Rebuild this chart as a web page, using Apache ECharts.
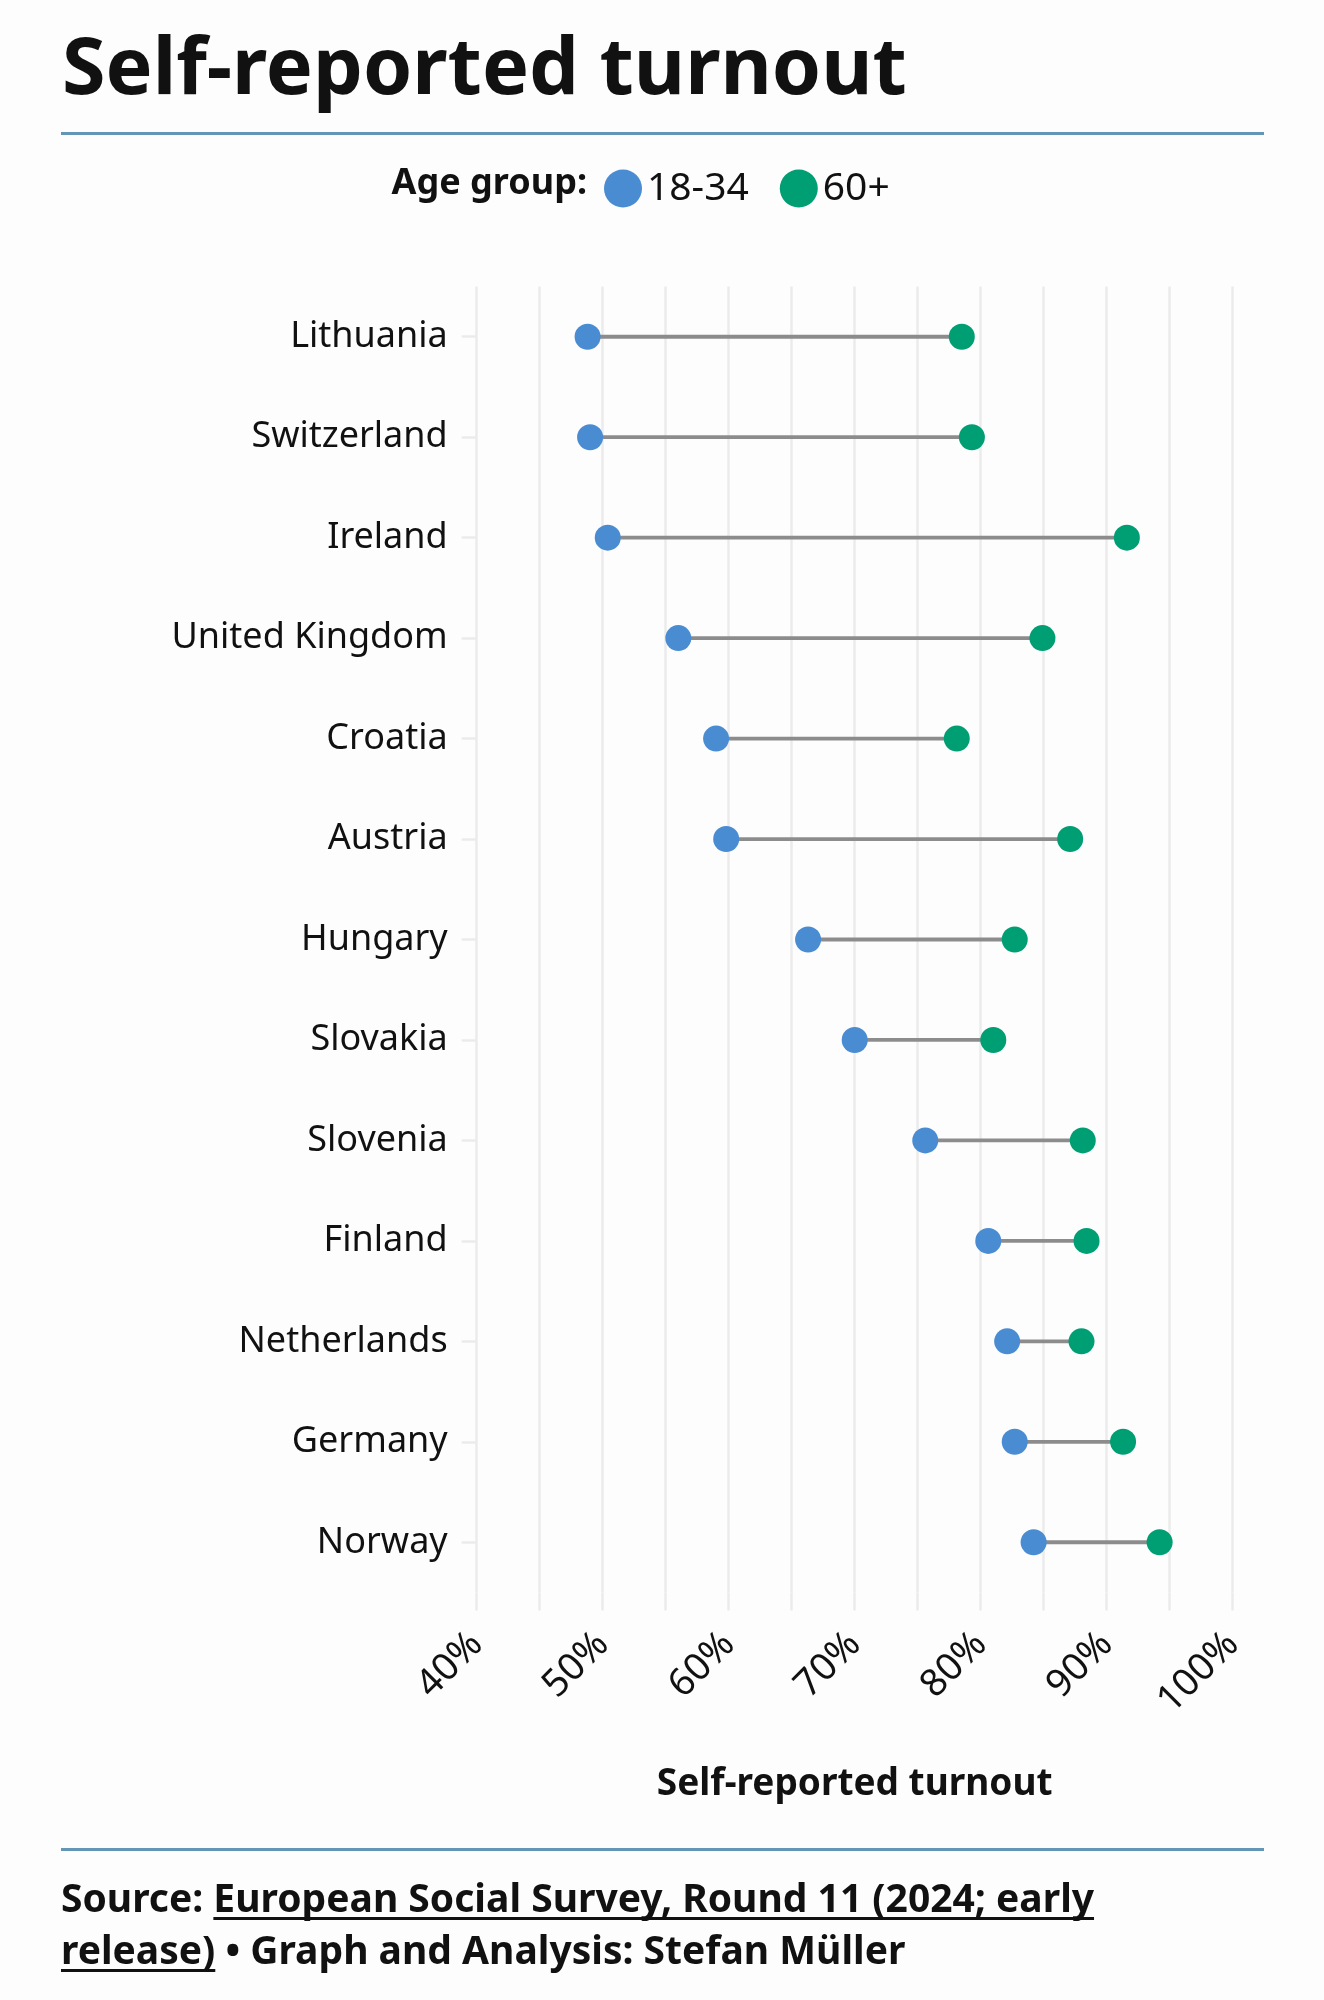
<!DOCTYPE html>
<html>
<head>
<meta charset="utf-8">
<script src="https://cdn.jsdelivr.net/npm/echarts@6/dist/echarts.min.js"></script>
<style>
  html, body { margin: 0; padding: 0; background: #fdfdfd; }
  #chart { width: 1324px; height: 2000px; }
</style>
</head>
<body>
<div id="chart"></div>
<script>
// ---- data ----
const countries = ['Lithuania', 'Switzerland', 'Ireland', 'United Kingdom', 'Croatia', 'Austria',
  'Hungary', 'Slovakia', 'Slovenia', 'Finland', 'Netherlands', 'Germany', 'Norway'];
const age18to34 = [48.8, 49.0, 50.4, 56.0, 59.0, 59.8, 66.3, 70.0, 75.6, 80.6, 82.1, 82.7, 84.2];
const age60plus = [78.5, 79.3, 91.6, 84.9, 78.1, 87.1, 82.7, 81.0, 88.1, 88.4, 88.0, 91.3, 94.2];
const xMin = 40, xMax = 100, xStep = 5;
const groupNames = ['18-34', '60+'];
const titleText = 'Self-reported turnout';
const axisTitle = 'Self-reported turnout';
const legendTitle = 'Age group:';
const captionLine1 = ['Source: ', 'European Social Survey, Round 11 (2024; early'];
const captionLine2 = ['release)', ' \u2022 Graph and Analysis: Stefan M\u00fcller'];

const FONT = '"Noto Sans", "DejaVu Sans", sans-serif';
const BLUE = '#4a8cd2', GREEN = '#009e73', RULE = '#6396b6', INK = '#111111';

// measure text for underline decorations
const mctx = document.createElement('canvas').getContext('2d');
function tw(str, size, weight) {
  mctx.font = (weight || 'normal') + ' ' + size + 'px "Noto Sans"';
  return mctx.measureText(str).width;
}

const capSize = 39;
const capX = 61, cap1Y = 1901, cap2Y = 1953;
const w1a = tw(captionLine1[0], capSize, 'bold');
const w1b = tw(captionLine1[1], capSize, 'bold');
const w2a = tw(captionLine2[0], capSize, 'bold');

const chart = echarts.init(document.getElementById('chart'), null, { renderer: 'canvas' });

const segData = countries.map((c, i) => [age18to34[i], age60plus[i], i]);

chart.setOption({
  backgroundColor: '#fdfdfd',
  animation: false,
  grid: { left: 476.7, right: 91.3, top: 286.5, bottom: 407.5, containLabel: false },
  legend: {
    left: 599, top: 164,
    itemWidth: 38, itemHeight: 38, itemGap: 31,
    icon: 'circle',
    selectedMode: false,
    textStyle: { fontFamily: FONT, fontSize: 39, color: INK },
    data: groupNames
  },
  xAxis: {
    type: 'value', min: xMin, max: xMax, interval: xStep,
    axisLine: { show: false },
    axisTick: { show: true, length: 18, lineStyle: { color: '#ebebeb', width: 2.5 } },
    splitLine: { show: true, lineStyle: { color: '#ebebeb', width: 2.5 } },
    axisLabel: {
      rotate: 45, margin: 46, fontFamily: FONT, fontSize: 38, color: INK,
      formatter: v => (v % 10 === 0 ? v + '%' : '')
    },
    name: axisTitle, nameLocation: 'middle', nameGap: 173,
    nameTextStyle: { fontFamily: FONT, fontSize: 37, fontWeight: 'bold', color: INK }
  },
  yAxis: {
    type: 'category', data: countries, inverse: true,
    axisLine: { show: false },
    axisTick: { show: true, length: 15, alignWithLabel: true, lineStyle: { color: '#ebebeb', width: 2.5 } },
    splitLine: { show: false },
    axisLabel: { margin: 29, fontFamily: FONT, fontSize: 36, color: INK }
  },
  series: [
    {
      type: 'custom', name: 'gap', silent: true, z: 1,
      encode: { x: [0, 1], y: 2 },
      data: segData,
      renderItem: (params, api) => {
        const p1 = api.coord([api.value(0), api.value(2)]);
        const p2 = api.coord([api.value(1), api.value(2)]);
        return { type: 'line', shape: { x1: p1[0], y1: p1[1], x2: p2[0], y2: p2[1] },
                 style: { stroke: '#8c8c8c', lineWidth: 3.8 } };
      }
    },
    {
      type: 'scatter', name: groupNames[0], z: 3, symbol: 'circle', symbolSize: 26,
      itemStyle: { color: BLUE, opacity: 1 },
      data: age18to34.map((v, i) => [v, countries[i]])
    },
    {
      type: 'scatter', name: groupNames[1], z: 3, symbol: 'circle', symbolSize: 26,
      itemStyle: { color: GREEN, opacity: 1 },
      data: age60plus.map((v, i) => [v, countries[i]])
    }
  ],
  graphic: [
    { type: 'text', left: 62, top: 32, style: { text: titleText, fontFamily: FONT, fontSize: 79, fontWeight: 'bold', fill: INK } },
    { type: 'rect', shape: { x: 61, y: 132, width: 1203, height: 3 }, style: { fill: RULE } },
    { type: 'text', x: 587, y: 184, style: { text: legendTitle, fontFamily: FONT, fontSize: 36, fontWeight: 'bold', fill: INK, align: 'right', verticalAlign: 'middle' } },
    { type: 'rect', shape: { x: 61, y: 1848, width: 1203, height: 3 }, style: { fill: RULE } },
    { type: 'text', x: capX, y: cap1Y, style: { text: captionLine1.join(''), fontFamily: FONT, fontSize: capSize, fontWeight: 'bold', fill: INK, verticalAlign: 'middle' } },
    { type: 'text', x: capX, y: cap2Y, style: { text: captionLine2.join(''), fontFamily: FONT, fontSize: capSize, fontWeight: 'bold', fill: INK, verticalAlign: 'middle' } },
    { type: 'rect', shape: { x: capX + w1a, y: cap1Y + 16, width: w1b, height: 3 }, style: { fill: INK } },
    { type: 'rect', shape: { x: capX, y: cap2Y + 16, width: w2a, height: 3 }, style: { fill: INK } }
  ]
});
</script>
</body>
</html>
